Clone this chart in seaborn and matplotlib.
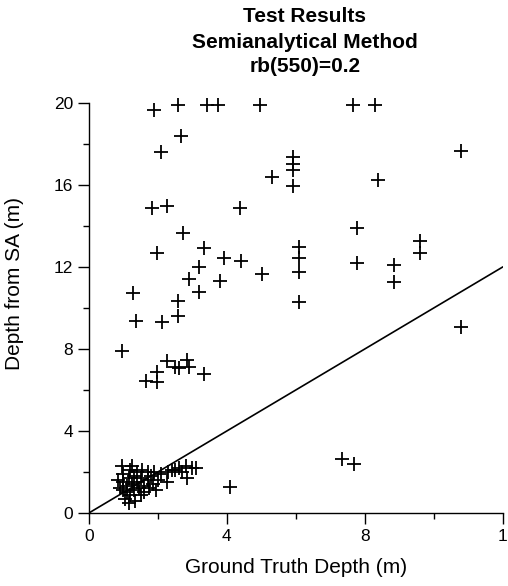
import numpy as np
import pandas as pd
import matplotlib
matplotlib.use("Agg")
import matplotlib.pyplot as plt
import seaborn as sns

# ground truth depth (m) vs depth from semianalytical method (m)
gt_top = [1.88, 2.57, 3.43, 3.74, 4.97, 7.66, 8.29]
sa_top = [19.65, 19.9, 19.9, 19.9, 19.9, 19.9, 19.9]

gt_mid = [2.68, 2.1, 10.79, 5.92, 5.92, 5.92, 5.92, 5.31, 8.39,
          1.82, 2.25, 4.39, 2.72, 7.77, 9.6, 9.6,
          3.34, 1.96, 3.93, 4.41, 3.19, 5.01, 2.9, 3.79,
          6.1, 6.1, 6.1, 6.1, 7.77, 8.84, 8.84,
          1.27, 3.19, 2.58, 1.36, 2.12, 2.58, 10.79]
sa_mid = [18.36, 17.6, 17.67, 17.38, 17.0, 16.7, 15.95, 16.4, 16.24,
          14.86, 14.98, 14.86, 13.67, 13.89, 13.24, 12.7,
          12.94, 12.7, 12.45, 12.29, 12.01, 11.66, 11.41, 11.33,
          12.99, 12.42, 11.74, 10.31, 12.21, 12.1, 11.24,
          10.72, 10.77, 10.36, 9.37, 9.3, 9.62, 9.09]

gt_low = [0.95, 1.65, 1.96, 1.98, 2.27, 2.5, 2.6, 2.84, 2.89, 3.34,
          4.1, 7.33, 7.67]
sa_low = [7.9, 6.45, 6.86, 6.41, 7.43, 7.1, 7.06, 7.46, 7.14, 6.78,
          1.25, 2.63, 2.4]

gt_cluster = [0.95, 1.0, 1.0, 1.0, 0.9, 1.05, 1.1, 1.1, 1.15, 1.2, 1.2, 1.25,
              1.3, 1.3, 1.35, 1.4, 1.4, 1.45, 1.5, 1.5, 1.55, 1.6, 1.6, 1.7,
              1.7, 1.75, 1.8, 1.85, 1.9, 1.95, 2.0, 2.1, 2.25, 2.3, 2.4, 2.5,
              2.6, 2.7, 2.8, 2.85, 3.0, 3.1, 1.15, 0.85, 1.25]
sa_cluster = [2.3, 1.9, 1.5, 1.1, 1.2, 0.7, 1.3, 1.0, 1.7, 2.1, 0.9, 1.4,
              1.1, 1.8, 0.6, 1.5, 2.0, 1.2, 0.9, 1.7, 2.1, 1.3, 1.0, 1.6,
              2.0, 1.2, 1.8, 1.4, 2.0, 1.1, 1.6, 1.9, 1.5, 2.0, 2.1, 2.1,
              2.2, 2.0, 2.3, 1.7, 2.2, 2.2, 0.5, 1.6, 2.3]

title_lines = ["Test Results", "Semianalytical Method", "rb(550)=0.2"]

df = pd.DataFrame({
    "gt": gt_top + gt_mid + gt_low + gt_cluster,
    "sa": sa_top + sa_mid + sa_low + sa_cluster,
})

sns.set_style("ticks")
plt.rcParams["font.family"] = ["Liberation Sans", "DejaVu Sans"]
plt.rcParams["text.color"] = "black"
plt.rcParams["axes.labelcolor"] = "black"

fig = plt.figure(figsize=(5.08, 5.86), dpi=100)
ax = fig.add_axes([0.175, 0.1246, 0.815, 0.7])

sns.scatterplot(data=df, x="gt", y="sa", marker="+", color="black",
                s=95, linewidth=1.3, ax=ax, legend=False, clip_on=False)
# 1:1 line
ax.axline((0, 0), slope=1, color="black", lw=1.2)

ax.set_xlim(0, 12)
ax.set_ylim(0, 20)
ax.set_xticks([0, 4, 8, 12])
ax.set_xticklabels(["0", "4", "8", "1"])
ax.set_xticks([2, 6, 10], minor=True)
ax.set_yticks([0, 4, 8, 12, 16, 20])
ax.set_yticks([2, 6, 10, 14, 18], minor=True)
ax.tick_params(axis="both", which="major", length=8, width=1, labelsize=12.5,
               color="black", labelcolor="black")
ax.tick_params(axis="both", which="minor", length=4, width=1, color="black")
for s in ["top", "right"]:
    ax.spines[s].set_visible(False)
for s in ["left", "bottom"]:
    ax.spines[s].set_color("black")
    ax.spines[s].set_linewidth(1)

ax.set_xlabel("Ground Truth Depth (m)", fontsize=15, labelpad=10)
ax.set_ylabel("Depth from SA (m)", fontsize=15)
ax.yaxis.set_label_coords(-0.157, 0.56)

for line, ypos in zip(title_lines, [0.971, 0.927, 0.886]):
    fig.text(0.6, ypos, line, ha="center", va="center", fontsize=15,
             fontweight="bold", color="black")

fig.savefig("out.png", dpi=100)
